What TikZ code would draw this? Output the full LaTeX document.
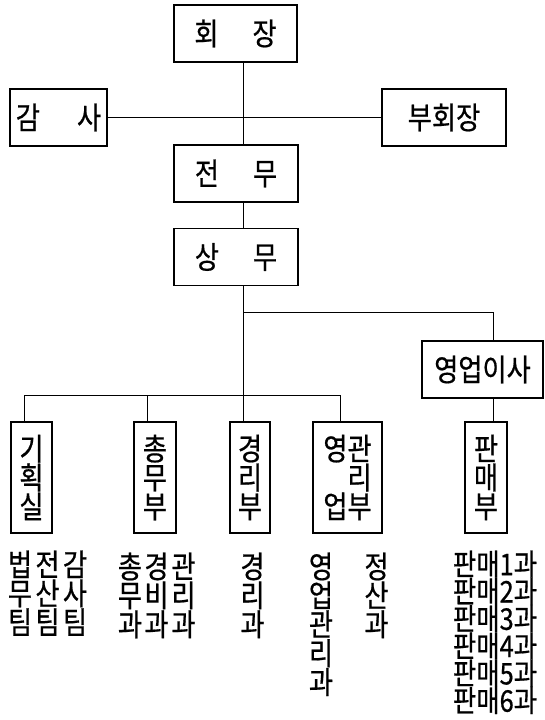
\documentclass[tikz,border=0pt]{standalone}
\usepackage{fontspec}
\newfontfamily\kr[FakeStretch=0.85,FakeBold=0.6]{Noto Sans CJK KR}
\begin{document}
\begin{tikzpicture}[x=1bp,y=-1bp,line width=1pt,
  box/.style={draw, line width=1.2pt, inner sep=0pt, minimum height=57bp, font=\kr\fontsize{31}{29}\selectfont},
  vbox/.style={draw, line width=1.2pt, inner sep=0pt, minimum height=111bp, align=center, font=\kr\fontsize{31}{29}\selectfont},
  lbl/.style={inner sep=0pt, anchor=north, align=center, font=\kr\fontsize{31}{29}\selectfont}]
\useasboundingbox (0,0) rectangle (545,720);

\node[box, minimum width=123bp] (hoejang) at (235.5,33.5){회\hspace{1.1em}장};
\node[box, minimum width=97bp] (gamsa) at (58.5,117.5){감\hspace{1.2em}사};
\node[box, minimum width=124bp] (buhoe) at (444,117.5){부회장};
\node[box, minimum width=124bp] (jeonmu) at (236,173.5){전\hspace{1.1em}무};
\node[box, minimum width=124bp] (sangmu) at (236,257){상\hspace{1.1em}무};
\node[box, minimum width=121bp] (isa) at (482.5,369.5){영업이사};

\node[vbox, minimum width=41bp] (gihoek) at (31.5,477.5){기\\획\\실};
\node[vbox, minimum width=42bp] (chongmu) at (155,477.5){총\\무\\부};
\node[vbox, minimum width=40bp] (gyeongri) at (250,477.5){경\\리\\부};
\node[vbox, minimum width=69bp, align=left] (yeonggwan) at (347.5,477.5){영관\\\hphantom{영}리\\업부};
\node[vbox, minimum width=42bp] (panmae) at (486,477.5){판\\매\\부};

% spine
\coordinate (bus) at (243,395);
\coordinate (br) at (243,312);
\coordinate (sales) at (493,312);
\draw (hoejang.south -| bus) -- (jeonmu.north -| bus);
\draw (jeonmu.south -| bus) -- (sangmu.north -| bus);
\draw (sangmu.south -| bus) -- (bus);
\draw (gamsa.east) -- (buhoe.west);

% sales branch
\draw (br) -- (sales) -- (sales |- isa.north);
\draw (isa.south -| sales) -- (sales |- panmae.north);

% bus to departments
\coordinate (d1) at (24,395);
\coordinate (d2) at (147,395);
\coordinate (d4) at (340,395);
\draw (d1) -- (d4);
\draw (d1) -- (d1 |- gihoek.north);
\draw (d2) -- (d2 |- chongmu.north);
\draw (bus) -- (bus |- gyeongri.north);
\draw (d4) -- (d4 |- yeonggwan.north);

% sections
\node[lbl] (beopmu) at (20,550){법\\무\\팀};
\node[lbl] (jeonsan) at (47.5,550){전\\산\\팀};
\node[lbl] (gamsatim) at (75,550){감\\사\\팀};
\node[lbl] (chongmugwa) at (130,552){총\\무\\과};
\node[lbl] (gyeongbi) at (156.5,552){경\\비\\과};
\node[lbl] (gwanri) at (183.5,552){관\\리\\과};
\node[lbl] (gyeongrigwa) at (252.5,552){경\\리\\과};
\node[lbl] (yeongeopgwanri) at (321,552){영\\업\\관\\리\\과};
\node[lbl] (jeongsan) at (376.5,552){정\\산\\과};
\node[lbl, font=\kr\fontsize{30}{27.4}\selectfont] (panmaegwa) at (495,550){판매1과\\판매2과\\판매3과\\판매4과\\판매5과\\판매6과};

\end{tikzpicture}
\end{document}
